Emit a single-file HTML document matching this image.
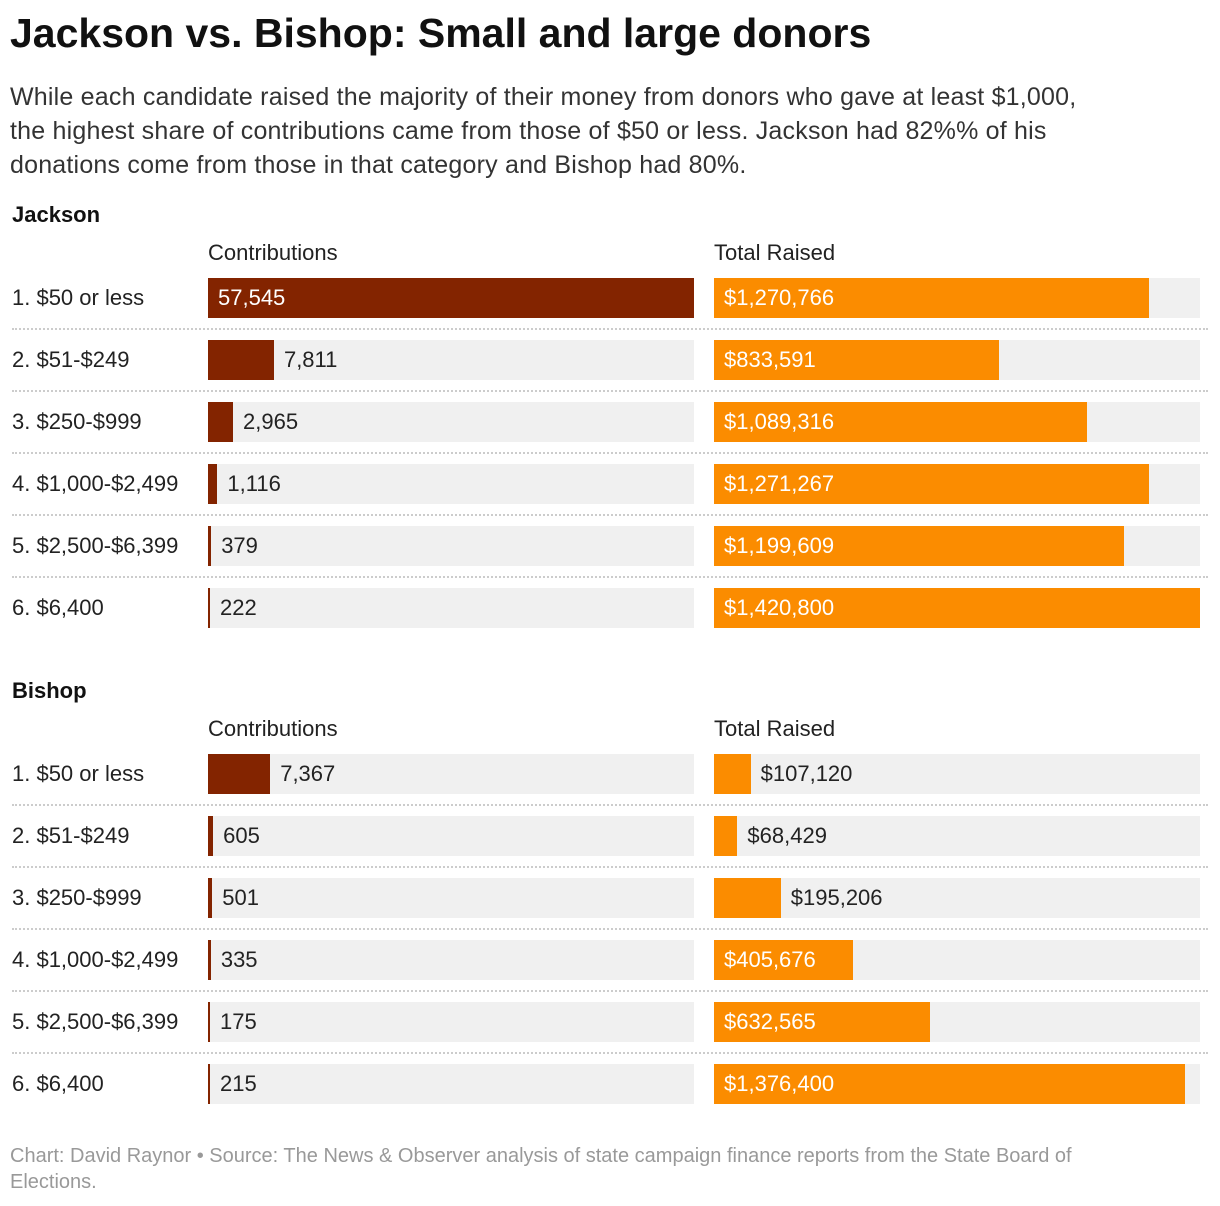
<!DOCTYPE html>
<html><head><meta charset="utf-8">
<style>
body{margin:0;width:1220px;height:1206px;background:#fff;font-family:"Liberation Sans",Roboto,sans-serif;color:#222;position:relative;overflow:hidden}
.a{position:absolute;white-space:nowrap}
h1{position:absolute;left:10px;top:10px;margin:0;font-size:41px;font-weight:bold;color:#111}
.sub{left:10px;top:80px;font-size:25px;line-height:34px;color:#333;letter-spacing:0.2px}
.sec{font-size:22px;font-weight:bold;color:#111}
.hdr{font-size:22px;color:#222}
.lbl{font-size:22px;color:#222}
.track{background:#f0f0f0;height:40px}
.bar{height:40px}
.val{font-size:22px;line-height:40px}
.sep{height:0;border-top:2px dotted #ccc}
.foot{left:10px;top:1143px;font-size:20px;line-height:26px;color:#999}
</style></head><body>
<h1>Jackson vs. Bishop: Small and large donors</h1>
<div class="a sub">While each candidate raised the majority of their money from donors who gave at least $1,000,<br>the highest share of contributions came from those of $50 or less. Jackson had 82%% of his<br>donations come from those in that category and Bishop had 80%.</div>
<div id="chart"></div>
<div class="a foot">Chart: David Raynor • Source: The News &amp; Observer analysis of state campaign finance reports from the State Board of<br>Elections.</div>
<script>
const categories=["1. $50 or less","2. $51-$249","3. $250-$999","4. $1,000-$2,499","5. $2,500-$6,399","6. $6,400"];
const jacksonContrib=[57545,7811,2965,1116,379,222];
const jacksonTotal=[1270766,833591,1089316,1271267,1199609,1420800];
const bishopContrib=[7367,605,501,335,175,215];
const bishopTotal=[107120,68429,195206,405676,632565,1376400];
const contribMax=57545, totalMax=1420800;
const W=486;
const root=document.getElementById('chart');
function mk(cls,x,y,w){const d=document.createElement('div');d.className='a '+cls;d.style.left=x+'px';d.style.top=y+'px';if(w!=null)d.style.width=w+'px';root.appendChild(d);return d;}
function fmt(v,dollar){return (dollar?'$':'')+v.toLocaleString('en-US');}
function drawBar(x,y,v,max,color,dollar,name){
  const t=mk('track',x,y,W);
  
  
  const bw=Math.max(2,v/max*W);
  const b=mk('bar',x,y,bw);b.style.background=color;
  
  
  const txt=fmt(v,dollar);
  const tw=txt.length*12.2;
  const l=mk('val',0,y);l.textContent=txt;
  
  
  if(bw>tw+22){l.style.left=(x+10)+'px';l.style.color='#fff';}
  else{l.style.left=(x+bw+10)+'px';l.style.color='#222';}
}
function section(name,top,contrib,total){
  const s=mk('sec',12,top);s.textContent=name;
  
  
  const h1=mk('hdr',208,top+38);h1.textContent='Contributions';
  
  
  const h2=mk('hdr',714,top+38);h2.textContent='Total Raised';
  
  
  categories.forEach((c,i)=>{
    const y=top+76+i*62;
    const l=mk('lbl val',12,y);l.textContent=c;
    
    
    drawBar(208,y,contrib[i],contribMax,'#832400',false,name.toLowerCase()+'-contrib-'+(i+1));
    drawBar(714,y,total[i],totalMax,'#fb8c00',true,name.toLowerCase()+'-total-'+(i+1));
    if(i<categories.length-1){const sp=mk('sep',12,y+50,1196);
      
      }
  });
}
section('Jackson',202,jacksonContrib,jacksonTotal);
section('Bishop',678,bishopContrib,bishopTotal);
</script>
</body></html>
